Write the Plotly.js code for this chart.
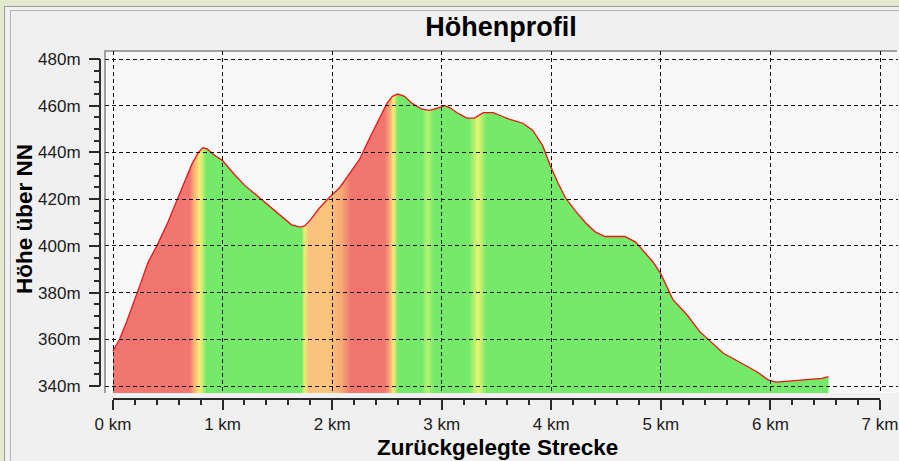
<!DOCTYPE html>
<html><head><meta charset="utf-8">
<script src="https://cdn.plot.ly/plotly-3.0.1.min.js"></script>
<style>html,body{margin:0;padding:0;background:#f0f0f0;overflow:hidden}#chart{width:899px;height:461px}</style>
</head><body><div id="chart"></div>
<script>
// ---- data ----
const distanceKm = [0.00,0.06,0.12,0.20,0.26,0.32,0.40,0.50,0.59,0.66,0.72,0.78,0.82,0.86,0.92,1.00,1.10,1.20,1.30,1.37,1.45,1.55,1.63,1.71,1.75,1.80,1.88,1.98,2.07,2.16,2.25,2.33,2.41,2.50,2.55,2.60,2.66,2.73,2.82,2.89,2.96,3.03,3.08,3.14,3.23,3.30,3.38,3.47,3.55,3.63,3.74,3.83,3.92,3.99,4.06,4.13,4.22,4.31,4.40,4.49,4.58,4.67,4.77,4.86,4.93,5.00,5.11,5.24,5.36,5.42,5.50,5.57,5.65,5.73,5.80,5.88,5.98,6.05,6.14,6.25,6.39,6.47,6.53];
const elevationM = [355,360,367,377,385,393,400,410,420,428,435,440,442,441.5,439,436.5,431,426,422,419.5,416,412,409,408,408.5,411,416,421,425,431,437,445,452.5,461,464,465,464,461,458.5,458,459,460,459,457,454.7,454.7,457,457,455.5,454,452.5,449.5,443,434.5,427,420.5,415,410,406,404,404,404,401.6,397,393,388,377,370.4,363,360.5,357,354,352,350,348,346,342.6,341.7,342,342.5,343,343.3,344];

const xTickVals = [0,1,2,3,4,5,6,7];
const xTickText = ['0 km','1 km','2 km','3 km','4 km','5 km','6 km','7 km'];
const yTickVals = [340,360,380,400,420,440,460,480];
const yTickText = ['340m','360m','380m','400m','420m','440m','460m','480m'];

// slope colouring bands along the track (km) and their colours
const gradKm = [0,0.70,0.74,0.79,0.82,0.85,1.72,1.75,1.79,1.95,2.08,2.17,2.48,2.53,2.56,2.60,2.82,2.87,2.93,3.25,3.33,3.41,6.53];
const gradColors = ['rgb(242,118,112)','rgb(242,118,112)','rgb(248,176,116)','rgb(246,236,116)','rgb(192,240,112)','rgb(116,233,106)',
  'rgb(116,233,106)','rgb(240,236,116)','rgb(250,192,128)','rgb(250,198,122)','rgb(248,172,116)','rgb(242,118,112)',
  'rgb(242,118,112)','rgb(248,176,116)','rgb(246,236,116)','rgb(116,233,106)','rgb(116,233,106)','rgb(182,242,114)',
  'rgb(116,233,106)','rgb(116,233,106)','rgb(232,244,114)','rgb(116,233,106)','rgb(116,233,106)'];

// ---- layout helpers ----
const W = 899, H = 461;
const px = v => v / W;
const py = v => 1 - v / H;
const plotL = 105, plotR = 898, plotT = 51, plotB = 393;
const x0px = 113, x7px = 880, y340px = 386, y480px = 59;
const kmPerPx = 7 / (x7px - x0px);
const mPerPx = 140 / (y340px - y480px);
const xRange = [(plotL - x0px) * kmPerPx, (plotR - x0px) * kmPerPx];
const yRange = [340 - (plotB - y340px) * mPerPx, 480 + (y480px - plotT) * mPerPx];

const gStart = distanceKm[0], gStop = distanceKm[distanceKm.length - 1];
const colorscale = gradKm.map((k, i) => [Math.min(1, Math.max(0, (k - gStart) / (gStop - gStart))), gradColors[i]]);

const tickFont = {family: 'Liberation Sans, Arial, sans-serif', size: 17, color: '#1c1c1c'};
const gridStyle = {showgrid: true, gridcolor: '#111', gridwidth: 1, griddash: '4px,3px'};

const traces = [
  {
    x: distanceKm, y: elevationM, xaxis: 'x', yaxis: 'y',
    type: 'scatter', mode: 'lines',
    line: {color: 'rgb(238,20,20)', width: 1.3},
    fill: 'tozeroy',
    fillgradient: {type: 'horizontal', start: gStart, stop: gStop, colorscale: colorscale},
    hoverinfo: 'skip', showlegend: false
  },
  {
    x: distanceKm, y: elevationM, xaxis: 'x2', yaxis: 'y2',
    type: 'scatter', mode: 'lines',
    line: {color: 'rgba(0,0,0,0)', width: 0},
    hoverinfo: 'skip', showlegend: false
  }
];

const lineGray = '#9c9c9c';
const shapes = [
  {type:'rect', xref:'paper', yref:'paper', x0:0, x1:1, y0:py(6), y1:1, fillcolor:'#e2e9d0', line:{width:0}, layer:'below'},
  {type:'rect', xref:'paper', yref:'paper', x0:0, x1:px(4), y0:0, y1:1, fillcolor:'#e2e9d0', line:{width:0}, layer:'below'},
  {type:'line', xref:'paper', yref:'paper', x0:px(4), x1:1, y0:py(6.5), y1:py(6.5), line:{color:lineGray, width:1}, layer:'below'},
  {type:'line', xref:'paper', yref:'paper', x0:px(4.5), x1:px(4.5), y0:py(6), y1:0, line:{color:lineGray, width:1}, layer:'below'},
  {type:'line', xref:'paper', yref:'paper', x0:px(10), x1:1, y0:py(10.5), y1:py(10.5), line:{color:'#b4b4b4', width:1}, layer:'below'},
  {type:'line', xref:'paper', yref:'paper', x0:px(10.5), x1:px(10.5), y0:py(10), y1:0, line:{color:'#b4b4b4', width:1}, layer:'below'},
  {type:'rect', xref:'paper', yref:'paper', x0:px(plotL), x1:px(plotR), y0:py(plotB), y1:py(plotT), fillcolor:'#f8f8f8', line:{width:0}, layer:'below'},
  {type:'line', xref:'paper', yref:'paper', x0:px(plotL-1), x1:px(plotR-1), y0:py(plotT), y1:py(plotT), line:{color:'#a0a0a0', width:2}, layer:'below'},
  {type:'line', xref:'paper', yref:'paper', x0:px(plotL), x1:px(plotL), y0:py(plotT), y1:py(plotB), line:{color:'#a0a0a0', width:2}, layer:'below'},
  // axis lines (span of the tick range only)
  {type:'line', xref:'x2', yref:'paper', x0:xTickVals[0], x1:xTickVals[xTickVals.length-1], y0:py(399), y1:py(399), line:{color:'#2a2a2a', width:2}},
  {type:'line', xref:'paper', yref:'y2', x0:px(100), x1:px(100), y0:yTickVals[0], y1:yTickVals[yTickVals.length-1], line:{color:'#2a2a2a', width:2}}
];

const layout = {
  width: W, height: H,
  margin: {l:0, r:0, t:0, b:0, pad:0},
  paper_bgcolor: '#f0f0f0',
  plot_bgcolor: 'rgba(0,0,0,0)',
  showlegend: false,
  title: {
    text: 'Höhenprofil',
    font: {family: 'Liberation Sans, Arial, sans-serif', size: 27, weight: 700, color: '#000'},
    x: px(501), xanchor: 'center', xref: 'container',
    y: py(26.5), yanchor: 'middle', yref: 'container'
  },
  xaxis: {domain: [px(plotL), px(plotR)], range: xRange, visible: false, fixedrange: true},
  yaxis: {domain: [py(plotB), py(plotT)], range: yRange, visible: false, fixedrange: true},
  xaxis2: Object.assign({
    domain: [px(plotL), px(plotR)], range: xRange, anchor: 'free', position: py(399), side: 'bottom',
    tickmode: 'array', tickvals: xTickVals, ticktext: xTickText,
    ticks: 'outside', ticklen: 10, tickwidth: 2, tickcolor: '#2a2a2a',
    ticklabelstandoff: 0,
    tickfont: tickFont, showline: false, zeroline: false, fixedrange: true,
    minor: {tickmode: 'linear', tick0: 0, dtick: 0.2, ticks: 'outside', ticklen: 5, tickwidth: 2, tickcolor: '#2a2a2a', showgrid: false}
  }, gridStyle),
  yaxis2: Object.assign({
    domain: [py(plotB), py(plotT)], range: yRange, anchor: 'free', position: px(100), side: 'left',
    tickmode: 'array', tickvals: yTickVals, ticktext: yTickText,
    ticks: 'outside', ticklen: 11, tickwidth: 2, tickcolor: '#2a2a2a',
    ticklabelstandoff: 5,
    tickfont: tickFont, showline: false, zeroline: false, fixedrange: true,
    minor: {tickmode: 'linear', tick0: 340, dtick: 5, ticks: 'outside', ticklen: 6, tickwidth: 2, tickcolor: '#2a2a2a', showgrid: false}
  }, gridStyle),
  shapes: shapes,
  annotations: [
    {text: 'Zurückgelegte Strecke', xref: 'paper', yref: 'paper', x: px(497), y: py(447), xanchor: 'center', yanchor: 'middle',
     showarrow: false, font: {family: 'Liberation Sans, Arial, sans-serif', size: 22.5, weight: 700, color: '#000'}},
    {text: 'Höhe über NN', xref: 'paper', yref: 'paper', x: px(24), y: py(219), xanchor: 'center', yanchor: 'middle', textangle: -90,
     showarrow: false, font: {family: 'Liberation Sans, Arial, sans-serif', size: 22.5, weight: 700, color: '#000'}}
  ]
};

Plotly.newPlot('chart', traces, layout, {staticPlot: true, displayModeBar: false});
</script>
</body></html>
